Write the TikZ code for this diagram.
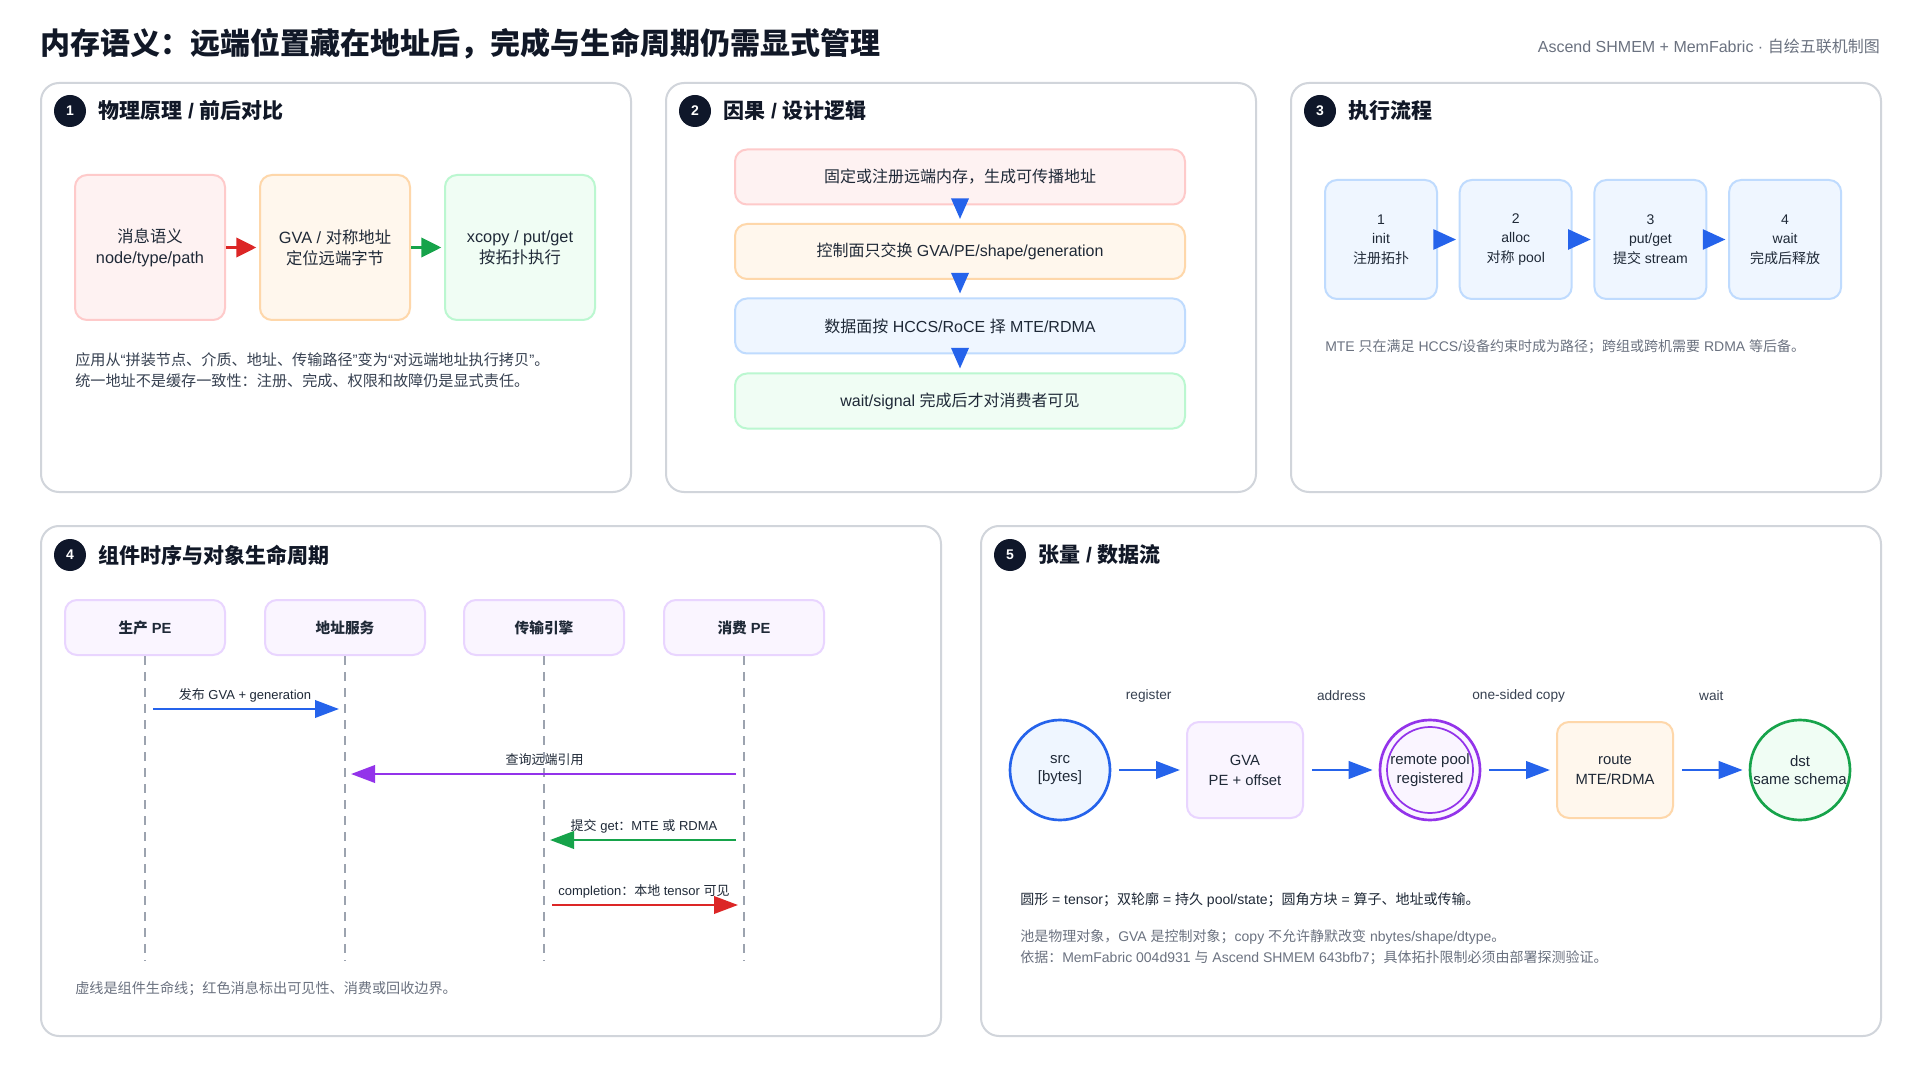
\documentclass[tikz,border=0pt]{standalone}
\usepackage{fontspec}
\setmainfont{Liberation Sans}
\newfontfamily\cjkf{Noto Sans CJK SC}
\XeTeXinterchartokenstate=1
\newXeTeXintercharclass\CJKcls
\count255="3000
\loop\XeTeXcharclass\count255=\CJKcls\ifnum\count255<"303F\advance\count255 by 1\repeat
\count255="4E00
\loop\XeTeXcharclass\count255=\CJKcls\ifnum\count255<"9FFF\advance\count255 by 1\repeat
\count255="FF00
\loop\XeTeXcharclass\count255=\CJKcls\ifnum\count255<"FFEF\advance\count255 by 1\repeat
\XeTeXinterchartoks 0 \CJKcls = {\begingroup\cjkf}
\XeTeXinterchartoks 4095 \CJKcls = {\begingroup\cjkf}
\XeTeXinterchartoks \CJKcls 0 = {\endgroup}
\XeTeXinterchartoks \CJKcls 4095 = {\endgroup}
\usetikzlibrary{arrows.meta,calc}

\definecolor{cPanel}{HTML}{D1D5DB}
\definecolor{cTitle}{HTML}{111827}
\definecolor{cBody}{HTML}{1F2937}
\definecolor{cCap}{HTML}{374151}
\definecolor{cGray}{HTML}{6B7280}
\definecolor{cBadge}{HTML}{0F172A}
\definecolor{cPinkF}{HTML}{FEF2F2}
\definecolor{cPinkD}{HTML}{FECACA}
\definecolor{cOrgF}{HTML}{FFF7ED}
\definecolor{cOrgD}{HTML}{FED7AA}
\definecolor{cGrnF}{HTML}{F0FDF4}
\definecolor{cGrnD}{HTML}{BBF7D0}
\definecolor{cBluF}{HTML}{EFF6FF}
\definecolor{cBluD}{HTML}{BFDBFE}
\definecolor{cPurF}{HTML}{FAF5FF}
\definecolor{cPurD}{HTML}{E9D5FF}
\definecolor{cBlue}{HTML}{2563EB}
\definecolor{cRed}{HTML}{DC2626}
\definecolor{cGreen}{HTML}{16A34A}
\definecolor{cPurple}{HTML}{9333EA}
\definecolor{cLife}{HTML}{9CA3AF}

\tikzset{
  panelsm/.style={draw=cPanel, line width=1.5pt, fill=white, rounded corners=13.5pt,
    anchor=north west, inner sep=0, minimum width=442.5pt, minimum height=306.75pt},
  panelbig/.style={draw=cPanel, line width=1.5pt, fill=white, rounded corners=13.5pt,
    anchor=north west, inner sep=0, minimum width=675pt, minimum height=382.5pt},
  badge/.style={circle, fill=cBadge, minimum size=24pt, inner sep=0, text=white,
    font=\fontsize{10.5}{12}\selectfont\bfseries},
  ptitle/.style={anchor=west, inner sep=0, text=cTitle,
    font=\fontsize{15.75}{18}\selectfont\bfseries},
  bigbox/.style={rounded corners=9pt, line width=1.5pt, inner sep=0, align=center,
    minimum width=112.5pt, minimum height=108.75pt, text=cBody,
    font=\fontsize{12.25}{16}\selectfont},
  rowbox/.style={rounded corners=9pt, line width=1.5pt, inner sep=0, align=center,
    minimum width=337.5pt, minimum height=41.25pt, text=cBody,
    font=\fontsize{12}{14}\selectfont},
  stepbox/.style={rounded corners=9pt, line width=1.5pt, inner sep=0, align=center,
    minimum width=84pt, minimum height=89.25pt, text=cBody, fill=cBluF, draw=cBluD,
    font=\fontsize{10.5}{14.7}\selectfont},
  headbox/.style={rounded corners=9pt, line width=1.5pt, inner sep=0, align=center,
    minimum width=120pt, minimum height=41.25pt, text=cBody, fill=cPurF, draw=cPurD,
    font=\fontsize{11}{13}\selectfont\bfseries},
  capline/.style={anchor=west, inner sep=0, font=\fontsize{11.35}{13}\selectfont},
  life/.style={draw=cLife, line width=1.2pt, dash pattern=on 7pt off 5pt},
  msg/.style={line width=2pt, shorten <=6pt, shorten >=4.5pt,
    -{Triangle[length=18pt,width=13pt]}},
  mlabel/.style={inner sep=0, text=cBody, font=\fontsize{9.75}{11}\selectfont},
  flow/.style={line width=2.2pt, draw=cBlue, shorten <=6pt, shorten >=4.5pt,
    -{Triangle[length=18pt,width=13pt]}},
  elabel/.style={inner sep=0, text=cCap, font=\fontsize{10.25}{12}\selectfont},
  tcirc/.style={circle, line width=2pt, inner sep=0, minimum size=75pt, align=center,
    text=cBody, font=\fontsize{11.25}{14}\selectfont},
  tbox/.style={rounded corners=9pt, line width=1.5pt, inner sep=0, align=center,
    minimum width=87pt, minimum height=72pt, text=cBody,
    font=\fontsize{11.1}{15}\selectfont},
}

\begin{document}
\begin{tikzpicture}[x=0.75pt,y=-0.75pt]
\useasboundingbox (0,0) rectangle (1920,1080);
\fill[white] (0,0) rectangle (1920,1080);

% header
\node[anchor=west, inner sep=0, text=cTitle, font=\fontsize{22.5}{26}\selectfont\bfseries] (title) at (40,44)
  {内存语义：远端位置藏在地址后，完成与生命周期仍需显式管理};
\node[anchor=east, inner sep=0, text=cGray, font=\fontsize{12}{14}\selectfont] (hdr) at (1880,46)
  {Ascend SHMEM + MemFabric · 自绘五联机制图};

% ---------- panel 1
\node[panelsm] (p1) at (40,82) {};
\node[badge] (bd1) at (70,111) {1};
\node[ptitle] (t1) at (98,111) {物理原理 / 前后对比};
\node[bigbox, fill=cPinkF, draw=cPinkD] (a1) at (150,247.5) {消息语义\\node/type/path};
\node[bigbox, fill=cOrgF, draw=cOrgD] (a2) at (335,247.5) {GVA / 对称地址\\定位远端字节};
\node[bigbox, fill=cGrnF, draw=cGrnD] (a3) at (520,247.5) {xcopy / put/get\\按拓扑执行};
\draw[line width=2.2pt, draw=cRed, -{Triangle[length=15pt,width=14.5pt]}] (a1.east) -- ([xshift=-2pt]a2.west);
\draw[line width=2.2pt, draw=cGreen, -{Triangle[length=15pt,width=14.5pt]}] (a2.east) -- ([xshift=-2pt]a3.west);
\node[capline, text=cCap] (c1a) at (75,360) {应用从“拼装节点、介质、地址、传输路径”变为“对远端地址执行拷贝”。};
\node[capline, text=cCap] (c1b) at (75,381) {统一地址不是缓存一致性：注册、完成、权限和故障仍是显式责任。};

% ---------- panel 2
\node[panelsm] (p2) at (665,82) {};
\node[badge] (bd2) at (695,111) {2};
\node[ptitle] (t2) at (723,111) {因果 / 设计逻辑};
\node[rowbox, fill=cPinkF, draw=cPinkD] (r1) at (960,177) {固定或注册远端内存，生成可传播地址};
\node[rowbox, fill=cOrgF, draw=cOrgD] (r2) at (960,251.5) {控制面只交换 GVA/PE/shape/generation};
\node[rowbox, fill=cBluF, draw=cBluD] (r3) at (960,326) {数据面按 HCCS/RoCE 择 MTE/RDMA};
\node[rowbox, fill=cGrnF, draw=cGrnD] (r4) at (960,401) {wait/signal 完成后才对消费者可见};
\foreach \u/\v in {r1/r2, r2/r3, r3/r4}
  \draw[line width=2pt, draw=cBlue, -{Triangle[length=15.5pt,width=13pt]}] ([yshift=4pt]\u.south) -- ([yshift=3pt]\v.north);

% ---------- panel 3
\node[panelsm] (p3) at (1290,82) {};
\node[badge] (bd3) at (1320,111) {3};
\node[ptitle] (t3) at (1348,111) {执行流程};
\node[stepbox] (s1) at (1381,239.5) {1\\init\\注册拓扑};
\node[stepbox] (s2) at (1515.7,239.5) {2\\alloc\\对称 pool};
\node[stepbox] (s3) at (1650.4,239.5) {3\\put/get\\提交 stream};
\node[stepbox] (s4) at (1785.1,239.5) {4\\wait\\完成后释放};
\foreach \u/\v in {s1/s2, s2/s3, s3/s4}
  \draw[line width=2pt, draw=cBlue, -{Triangle[length=17pt,width=15pt]}] ([xshift=-3pt]\u.east) -- ([xshift=-2pt]\v.west);
\node[capline, text=cGray, font=\fontsize{10.5}{13}\selectfont] (c3) at (1325,347)
  {MTE 只在满足 HCCS/设备约束时成为路径；跨组或跨机需要 RDMA 等后备。};

% ---------- panel 4
\node[panelbig] (p4) at (40,525) {};
\node[badge] (bd4) at (70,555) {4};
\node[ptitle] (t4) at (98,555) {组件时序与对象生命周期};
\node[headbox] (h1) at (145,627.5) {生产 PE};
\node[headbox] (h2) at (345,627.5) {地址服务};
\node[headbox] (h3) at (544,627.5) {传输引擎};
\node[headbox] (h4) at (744,627.5) {消费 PE};
\coordinate (e1) at (145,961);
\coordinate (e2) at (345,961);
\coordinate (e3) at (544,961);
\coordinate (e4) at (744,961);
\draw[life] (h1.south) -- (e1);
\draw[life] (h2.south) -- (e2);
\draw[life] (h3.south) -- (e3);
\draw[life] (h4.south) -- (e4);
\coordinate (q1a) at (145,709); \coordinate (q1b) at (345,709);
\coordinate (q2a) at (744,774); \coordinate (q2b) at (345,774);
\coordinate (q3a) at (744,840); \coordinate (q3b) at (544,840);
\coordinate (q4a) at (544,905); \coordinate (q4b) at (744,905);
\draw[msg, draw=cBlue] (q1a) -- node[mlabel, yshift=10.5pt] (l1) {发布 GVA + generation} (q1b);
\draw[msg, draw=cPurple] (q2a) -- node[mlabel, yshift=10.5pt] (l2) {查询远端引用} (q2b);
\draw[msg, draw=cGreen] (q3a) -- node[mlabel, yshift=10.5pt] (l3) {提交 get：MTE 或 RDMA} (q3b);
\draw[msg, draw=cRed] (q4a) -- node[mlabel, yshift=10.5pt] (l4) {completion：本地 tensor 可见} (q4b);
\node[capline, text=cGray, font=\fontsize{10.6}{13}\selectfont] (c4) at (75,989)
  {虚线是组件生命线；红色消息标出可见性、消费或回收边界。};

% ---------- panel 5
\node[panelbig] (p5) at (980,525) {};
\node[badge] (bd5) at (1010,555) {5};
\node[ptitle] (t5) at (1038,555) {张量 / 数据流};
\node[tcirc, draw=cBlue, fill=cBluF] (src) at (1060,770) {src\\{[bytes]}};
\node[tbox, draw=cPurD, fill=cPurF] (gva) at (1245,770) {GVA\\PE + offset};
\node[tcirc, draw=cPurple, fill=cPurF] (pool) at (1430,770) {};
\node[circle, draw=cPurple, line width=1.3pt, inner sep=0, minimum size=64.5pt, align=center,
  text=cBody, font=\fontsize{11.25}{14}\selectfont] (poolin) at (pool.center) {remote pool\\registered};
\node[tbox, draw=cOrgD, fill=cOrgF] (route) at (1615,770) {route\\MTE/RDMA};
\node[tcirc, draw=cGreen, fill=cGrnF] (dst) at (1800,770) {dst\\same schema};
\draw[flow] (src.east) -- node[elabel, yshift=55.5pt] (el1) {register} (gva.west);
\draw[flow] (gva.east) -- node[elabel, yshift=55.5pt] (el2) {address} (pool.west);
\draw[flow] (pool.east) -- node[elabel, yshift=55.5pt] (el3) {one-sided copy} (route.west);
\draw[flow] (route.east) -- node[elabel, yshift=55.5pt] (el4) {wait} (dst.west);
\node[capline, text=cBody, font=\fontsize{10.5}{13}\selectfont] (c5a) at (1020,900)
  {圆形 = tensor；双轮廓 = 持久 pool/state；圆角方块 = 算子、地址或传输。};
\node[capline, text=cGray, font=\fontsize{10.5}{13}\selectfont] (c5b) at (1020,937)
  {池是物理对象，GVA 是控制对象；copy 不允许静默改变 nbytes/shape/dtype。};
\node[capline, text=cGray, font=\fontsize{10.5}{13}\selectfont] (c5c) at (1020,958)
  {依据：MemFabric 004d931 与 Ascend SHMEM 643bfb7；具体拓扑限制必须由部署探测验证。};
\end{tikzpicture}
\end{document}
